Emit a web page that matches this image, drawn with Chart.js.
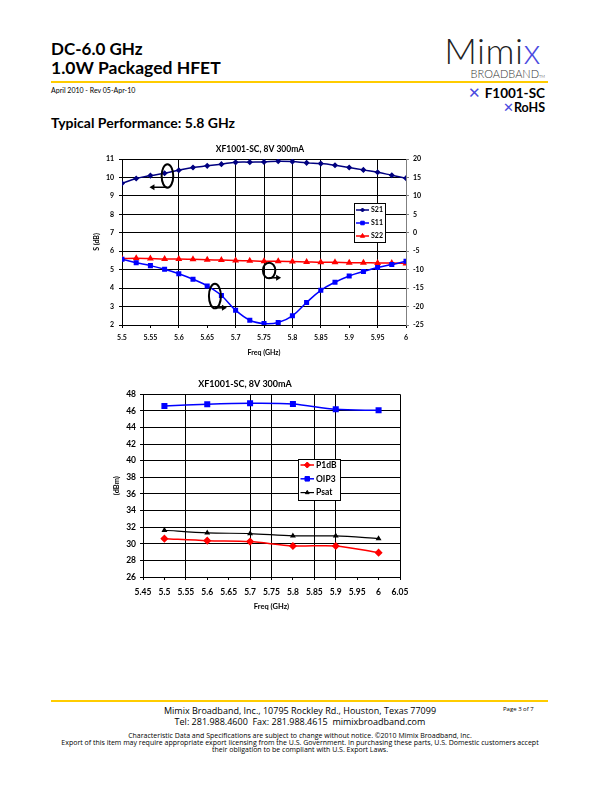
<!DOCTYPE html>
<html>
<head>
<meta charset="utf-8">
<script src="https://cdn.jsdelivr.net/npm/chart.js@4.4.0/dist/chart.umd.min.js"></script>
<style>
body { margin:0; width:612px; height:792px; position:relative; background:#fff; font-family:Lato, sans-serif; color:#000; overflow:hidden; }
.t { position:absolute; white-space:nowrap; line-height:1; }
.rule { position:absolute; background:#FFCC00; height:2px; }
.x { color:#4a4ae0; font-weight:300; }
canvas { position:absolute; }
.foot { position:absolute; left:50px; width:500px; text-align:center; font-family:"Open Sans", sans-serif; white-space:nowrap; }
</style>
</head>
<body>
<div class="t" style="left:51px;top:40px;font-size:17px;font-weight:700">DC-6.0 GHz</div>
<div class="t" style="left:51px;top:59px;font-size:17.5px;font-weight:700">1.0W Packaged HFET</div>
<div class="rule" style="left:51px;top:81px;width:497px"></div>
<div class="t" style="left:51px;top:87px;font-size:7px">April 2010 - Rev 05-Apr-10</div>

<div class="t" style="right:71px;top:32px;font-size:36px;font-weight:300;color:#222;letter-spacing:0.5px">Mimi<span class="x">x</span></div>
<div class="t" style="right:67px;top:68px;font-size:11px;font-weight:300;color:#333">BROADBAND<span style="font-size:4px">TM</span></div>
<div class="t" style="right:67px;top:85px;font-size:13.5px;font-weight:700"><span class="x" style="font-size:15px">✕</span> F1001-SC</div>
<div class="t" style="right:67px;top:101px;font-size:12.5px;font-weight:700"><span class="x" style="font-size:13px">✕</span>RoHS</div>

<div class="t" style="left:51px;top:116px;font-size:14px;font-weight:700">Typical Performance: 5.8 GHz</div>

<canvas id="c1" width="340" height="220" style="left:90px;top:140px"></canvas>
<canvas id="c2" width="340" height="250" style="left:90px;top:370px"></canvas>

<div class="rule" style="left:51px;top:700px;width:497px"></div>
<div class="foot" style="top:705px;font-size:9px;line-height:11px">Mimix Broadband, Inc., 10795 Rockley Rd., Houston, Texas 77099<br>Tel: 281.988.4600&nbsp; Fax: 281.988.4615&nbsp; mimixbroadband.com</div>
<div class="t" style="left:503px;top:706px;font-size:6px;font-family:'Open Sans',sans-serif">Page 3 of 7</div>
<div class="foot" style="top:732px;font-size:7px;line-height:7px">Characteristic Data and Specifications are subject to change without notice. ©2010 Mimix Broadband, Inc.<br>Export of this item may require appropriate export licensing from the U.S. Government. In purchasing these parts, U.S. Domestic customers accept<br>their obligation to be compliant with U.S. Export Laws.</div>

<script>
// S-parameters, 5.5 - 6 GHz
const sFreq = [5.5, 5.525, 5.55, 5.575, 5.6, 5.625, 5.65, 5.675, 5.7, 5.725, 5.75, 5.775, 5.8, 5.825, 5.85, 5.875, 5.9, 5.925, 5.95, 5.975, 6];
const s21 = [9.68, 9.94, 10.1, 10.23, 10.39, 10.54, 10.63, 10.72, 10.82, 10.83, 10.84, 10.88, 10.86, 10.79, 10.75, 10.66, 10.54, 10.41, 10.28, 10.12, 9.96];
const s11 = [-7.2, -8.1, -8.9, -9.9, -11.1, -12.6, -14.4, -17.0, -21.0, -23.7, -24.6, -24.3, -22.5, -18.9, -15.6, -13.4, -11.7, -10.5, -9.4, -8.6, -7.7];
const s22 = [-7.0, -6.9, -7.0, -7.1, -7.1, -7.2, -7.3, -7.4, -7.5, -7.6, -7.7, -7.7, -7.8, -7.9, -8.0, -8.0, -8.1, -8.1, -8.2, -8.2, -8.3];
const sFreqTicks = [5.5, 5.55, 5.6, 5.65, 5.7, 5.75, 5.8, 5.85, 5.9, 5.95, 6];
const sLeftTicks = [2, 3, 4, 5, 6, 7, 8, 9, 10, 11];
const sRightTicks = [-25, -20, -15, -10, -5, 0, 5, 10, 15, 20];

// power, 5.5 - 6 GHz
const pFreq = [5.5, 5.6, 5.7, 5.8, 5.9, 6];
const p1db = [30.62, 30.38, 30.26, 29.74, 29.74, 28.93];
const oip3 = [46.59, 46.8, 46.91, 46.83, 46.19, 46.07];
const psat = [31.63, 31.31, 31.23, 30.95, 30.95, 30.62];
const pFreqTicks = [5.45, 5.5, 5.55, 5.6, 5.65, 5.7, 5.75, 5.8, 5.85, 5.9, 5.95, 6, 6.05];
const pTicks = [26, 28, 30, 32, 34, 36, 38, 40, 42, 44, 46, 48];

// vertical lines that actually show up in the scanned plots
const sGridX = [5.6, 5.7, 5.75, 5.8, 5.85, 5.95];
const pGridX = [5.55, 5.7, 5.75, 5.85, 5.9, 6.05];

const FONT = 'Lato, sans-serif';
const pts = (xs, ys) => xs.map((x, i) => ({x: x, y: ys[i]}));
const fixTicks = arr => s => { s.ticks = arr.map(v => ({value: v})); };
const fmt = v => String(+v.toFixed(2));
const onlyAt = list => c => list.some(v => Math.abs(v - c.tick.value) < 1e-6) ? '#000' : 'rgba(0,0,0,0)';

// legend drawn as a framed box inside the plot
const boxLegend = {
  id: 'boxLegend',
  afterDatasetsDraw(chart, args, o) {
    const c = chart.ctx;
    c.save();
    c.fillStyle = '#fff';
    c.fillRect(o.x, o.y, o.w, o.h);
    c.strokeStyle = '#000';
    c.lineWidth = 1;
    c.strokeRect(o.x + 0.5, o.y + 0.5, o.w, o.h);
    c.font = 'bold ' + o.size + 'px ' + FONT;
    c.textBaseline = 'middle';
    chart.data.datasets.forEach((d, i) => {
      const y = o.y + o.first + i * o.gap;
      c.strokeStyle = d.borderColor;
      c.lineWidth = d.borderWidth;
      c.beginPath();
      c.moveTo(o.x + o.l0, y);
      c.lineTo(o.x + o.l1, y);
      c.stroke();
      c.fillStyle = d.backgroundColor;
      c.lineWidth = 1;
      Chart.helpers.drawPoint(c, {pointStyle: d.pointStyle, radius: d.pointRadius, borderWidth: 1, rotation: 0}, o.x + (o.l0 + o.l1) / 2, y);
      c.fillStyle = '#000';
      c.fillText(d.label, o.x + o.tx, y);
    });
    c.restore();
  }
};

// hand-drawn loops with arrows pointing to the axis each trace uses
const loops = {
  id: 'loops',
  afterDatasetsDraw(chart, args, o) {
    const c = chart.ctx, xs = chart.scales.x, ys = chart.scales.yL;
    c.save();
    c.strokeStyle = '#000';
    c.fillStyle = '#000';
    c.lineWidth = 2;
    o.items.forEach(it => {
      const cx = xs.getPixelForValue(it.f), cy = ys.getPixelForValue(it.v);
      c.beginPath();
      c.ellipse(cx, cy, it.rx, it.ry, 0, 0, Math.PI * 2);
      c.stroke();
      const y = cy + it.ry - 0.5;
      const ex = cx + it.dir * it.len;
      c.lineWidth = 1.5;
      c.beginPath();
      c.moveTo(cx, y);
      c.lineTo(ex - it.dir * 3, y);
      c.stroke();
      c.beginPath();
      c.moveTo(ex, y);
      c.lineTo(ex - it.dir * 5, y - 3);
      c.lineTo(ex - it.dir * 5, y + 3);
      c.closePath();
      c.fill();
      c.lineWidth = 2;
    });
    c.restore();
  }
};

new Chart(document.getElementById('c1'), {
  type: 'line',
  data: {
    datasets: [
      {label: 'S21', data: pts(sFreq, s21), yAxisID: 'yL', borderColor: '#000080', backgroundColor: '#000080', borderWidth: 1.5, pointStyle: 'rectRot', pointRadius: 2, tension: 0.4},
      {label: 'S11', data: pts(sFreq, s11), yAxisID: 'yR', borderColor: '#0000FF', backgroundColor: '#0000FF', borderWidth: 1.5, pointStyle: 'rect', pointRadius: 2.5, tension: 0.4},
      {label: 'S22', data: pts(sFreq, s22), yAxisID: 'yR', borderColor: '#FF0000', backgroundColor: '#FF0000', borderWidth: 1.5, pointStyle: 'triangle', pointRadius: 2.5, tension: 0.4}
    ]
  },
  options: {
    responsive: false,
    animation: false,
    layout: {padding: 0},
    plugins: {
      legend: {display: false},
      tooltip: {enabled: false},
      title: {display: true, text: 'XF1001-SC, 8V 300mA', color: '#000', font: {family: FONT, size: 8.5, weight: 'bold'}, padding: {top: 4.5, bottom: 4.3}},
      boxLegend: {x: 264, y: 63, w: 31, h: 39, first: 7, gap: 13, l0: 2, l1: 15, tx: 17, size: 7},
      loops: {items: [
        {f: 5.58, v: 10.08, rx: 5.8, ry: 11.8, dir: -1, len: 18},
        {f: 5.6636, v: 3.57, rx: 6, ry: 12.3, dir: 1, len: 12},
        {f: 5.759, v: 4.955, rx: 6.2, ry: 7.8, dir: 1, len: 12}
      ]}
    },
    scales: {
      x: {
        type: 'linear', min: 5.5, max: 6,
        afterBuildTicks: fixTicks(sFreqTicks),
        afterFit: s => { s.height = 35; },
        ticks: {callback: fmt, color: '#000', font: {family: FONT, size: 7, weight: 'bold'}, padding: 6, maxRotation: 0, autoSkip: false},
        grid: {color: onlyAt(sGridX), tickColor: '#000', tickLength: 3, lineWidth: 1},
        border: {color: '#000'},
        title: {display: true, text: 'Freq (GHz)', color: '#000', font: {family: FONT, size: 7, weight: 'bold'}, padding: {top: 0, bottom: 2.8}}
      },
      yL: {
        position: 'left', min: 2, max: 11,
        afterBuildTicks: fixTicks(sLeftTicks),
        afterFit: s => { s.width = 32; },
        ticks: {color: '#000', font: {family: FONT, size: 7, weight: 'bold'}, padding: 5},
        grid: {color: '#000', tickColor: '#000', tickLength: 3},
        border: {color: '#000'},
        title: {display: true, text: 'S (dB)', color: '#000', font: {family: FONT, size: 7, weight: 'bold'}, padding: {top: 2.8, bottom: 0}}
      },
      yR: {
        position: 'right', min: -25, max: 20,
        afterBuildTicks: fixTicks(sRightTicks),
        afterFit: s => { s.width = 24; },
        ticks: {color: '#000', font: {family: FONT, size: 7, weight: 'bold'}, padding: 4},
        grid: {drawOnChartArea: false, tickColor: '#808080', tickLength: 3},
        border: {color: '#808080'}
      }
    }
  },
  plugins: [boxLegend, loops]
});

new Chart(document.getElementById('c2'), {
  type: 'line',
  data: {
    datasets: [
      {label: 'P1dB', data: pts(pFreq, p1db), borderColor: '#FF0000', backgroundColor: '#FF0000', borderWidth: 1.5, pointStyle: 'rectRot', pointRadius: 3, tension: 0.3},
      {label: 'OIP3', data: pts(pFreq, oip3), borderColor: '#0000FF', backgroundColor: '#0000FF', borderWidth: 1.5, pointStyle: 'rect', pointRadius: 3.2, tension: 0.3},
      {label: 'Psat', data: pts(pFreq, psat), borderColor: '#000000', backgroundColor: '#000000', borderWidth: 1.2, pointStyle: 'triangle', pointRadius: 2.2, tension: 0.3}
    ]
  },
  options: {
    responsive: false,
    animation: false,
    layout: {padding: {left: 0, right: 30, top: 0, bottom: 0}},
    plugins: {
      legend: {display: false},
      tooltip: {enabled: false},
      title: {display: true, text: 'XF1001-SC, 8V 300mA', color: '#000', font: {family: FONT, size: 9, weight: 'bold'}, padding: {top: 8.5, bottom: 5}},
      boxLegend: {x: 208, y: 89, w: 42, h: 41, first: 6, gap: 13.8, l0: 2.5, l1: 16, tx: 18, size: 8.5}
    },
    scales: {
      x: {
        type: 'linear', min: 5.45, max: 6.05,
        afterBuildTicks: fixTicks(pFreqTicks),
        afterFit: s => { s.height = 43; },
        ticks: {callback: fmt, color: '#000', font: {family: FONT, size: 8.5, weight: 'bold'}, padding: 7, maxRotation: 0, autoSkip: false},
        grid: {color: onlyAt(pGridX), tickColor: '#000', tickLength: 3},
        border: {color: '#000'},
        title: {display: true, text: 'Freq (GHz)', color: '#000', font: {family: FONT, size: 7.5, weight: 'bold'}, padding: {top: 0, bottom: 8.5}}
      },
      y: {
        min: 26, max: 48,
        afterBuildTicks: fixTicks(pTicks),
        afterFit: s => { s.width = 53; },
        ticks: {color: '#000', font: {family: FONT, size: 8.5, weight: 'bold'}, padding: 4},
        grid: {color: '#000', tickColor: '#000', tickLength: 3},
        border: {color: '#000'},
        title: {display: true, text: '(dBm)', color: '#000', font: {family: FONT, size: 7.5, weight: 'bold'}, padding: {top: 22, bottom: 0}}
      }
    }
  },
  plugins: [boxLegend]
});
</script>
</body>
</html>
